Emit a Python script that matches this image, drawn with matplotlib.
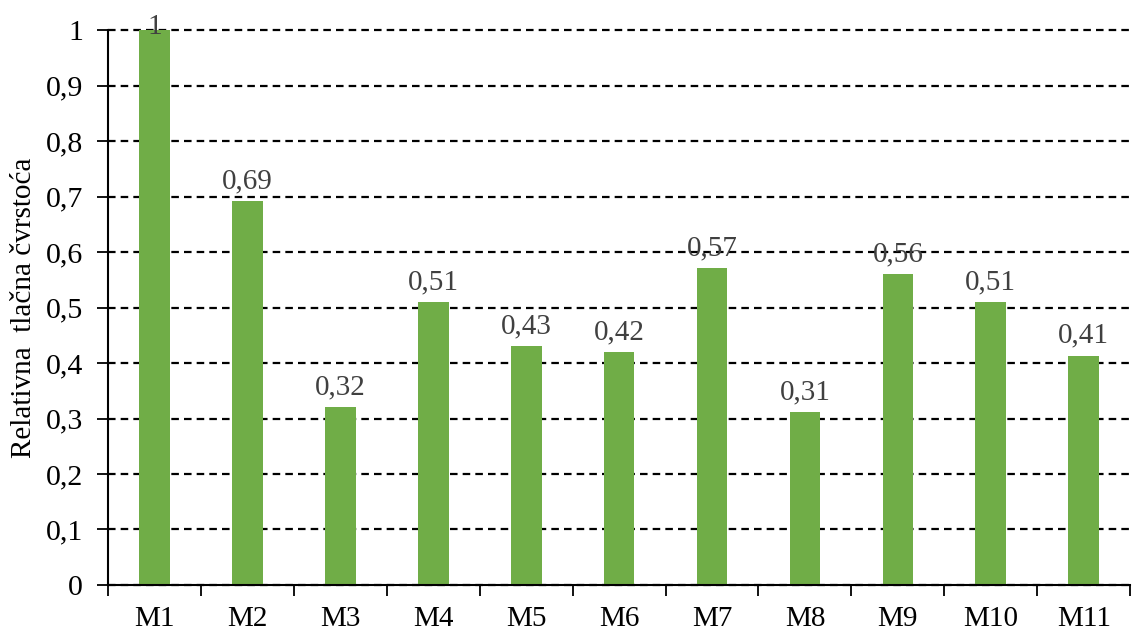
import numpy as np
import matplotlib.pyplot as plt

plt.rcParams['font.family'] = ['Liberation Serif', 'DejaVu Serif']

categories = ['M1', 'M2', 'M3', 'M4', 'M5', 'M6', 'M7', 'M8', 'M9', 'M10', 'M11']
values = [1.0, 0.692, 0.32, 0.51, 0.43, 0.42, 0.571, 0.311, 0.56, 0.51, 0.413]
yticks = [0, 0.1, 0.2, 0.3, 0.4, 0.5, 0.6, 0.7, 0.8, 0.9, 1]

fig = plt.figure(figsize=(11.37, 6.32), dpi=100)
ax = fig.add_axes([0.095, 0.0744, 0.899, 0.878])

x = np.arange(len(categories))
bars = ax.bar(x, values, width=0.33, color='#70AD47', zorder=3)

ax.set_xlim(-0.5, len(categories) - 0.5)
ax.set_ylim(0, 1)

# gridlines
ax.set_yticks(yticks)
ax.set_yticklabels([('%g' % t).replace('.', ',') for t in yticks], fontsize=21.5)
ax.yaxis.grid(True, linestyle=(0, (3.4, 2.3)), color='black', linewidth=1.6, zorder=1)
for gl in ax.get_ygridlines():
    gl.set_clip_on(False)
ax.tick_params(axis='y', length=8, width=1.3, pad=10)

# category boundaries as ticks, labels in the middle
ax.set_xticks(np.arange(-0.5, len(categories), 1))
ax.set_xticklabels([])
ax.set_xticks(x, minor=True)
ax.set_xticklabels(categories, minor=True, fontsize=21)
ax.tick_params(axis='x', which='major', length=8, width=1.3)
ax.tick_params(axis='x', which='minor', length=0, pad=15)

for s in ['top', 'right']:
    ax.spines[s].set_visible(False)
for s in ['left', 'bottom']:
    ax.spines[s].set_linewidth(1.5)
    ax.spines[s].set_zorder(4)

ax.set_ylabel('Relativna  tlačna čvrstoća', fontsize=21, labelpad=6)

for xi, v in zip(x, values):
    lab = ('%.2f' % v).replace('.', ',')
    if v >= 1:
        lab = '1'
        ax.annotate(lab, (xi, v), xytext=(0, -7), textcoords='offset points',
                    ha='center', va='bottom', fontsize=21, color='#404040', zorder=5)
    else:
        ax.annotate(lab, (xi, v), xytext=(0, 5), textcoords='offset points',
                    ha='center', va='bottom', fontsize=21, color='#404040', zorder=5)

fig.savefig('out.png', dpi=100)
